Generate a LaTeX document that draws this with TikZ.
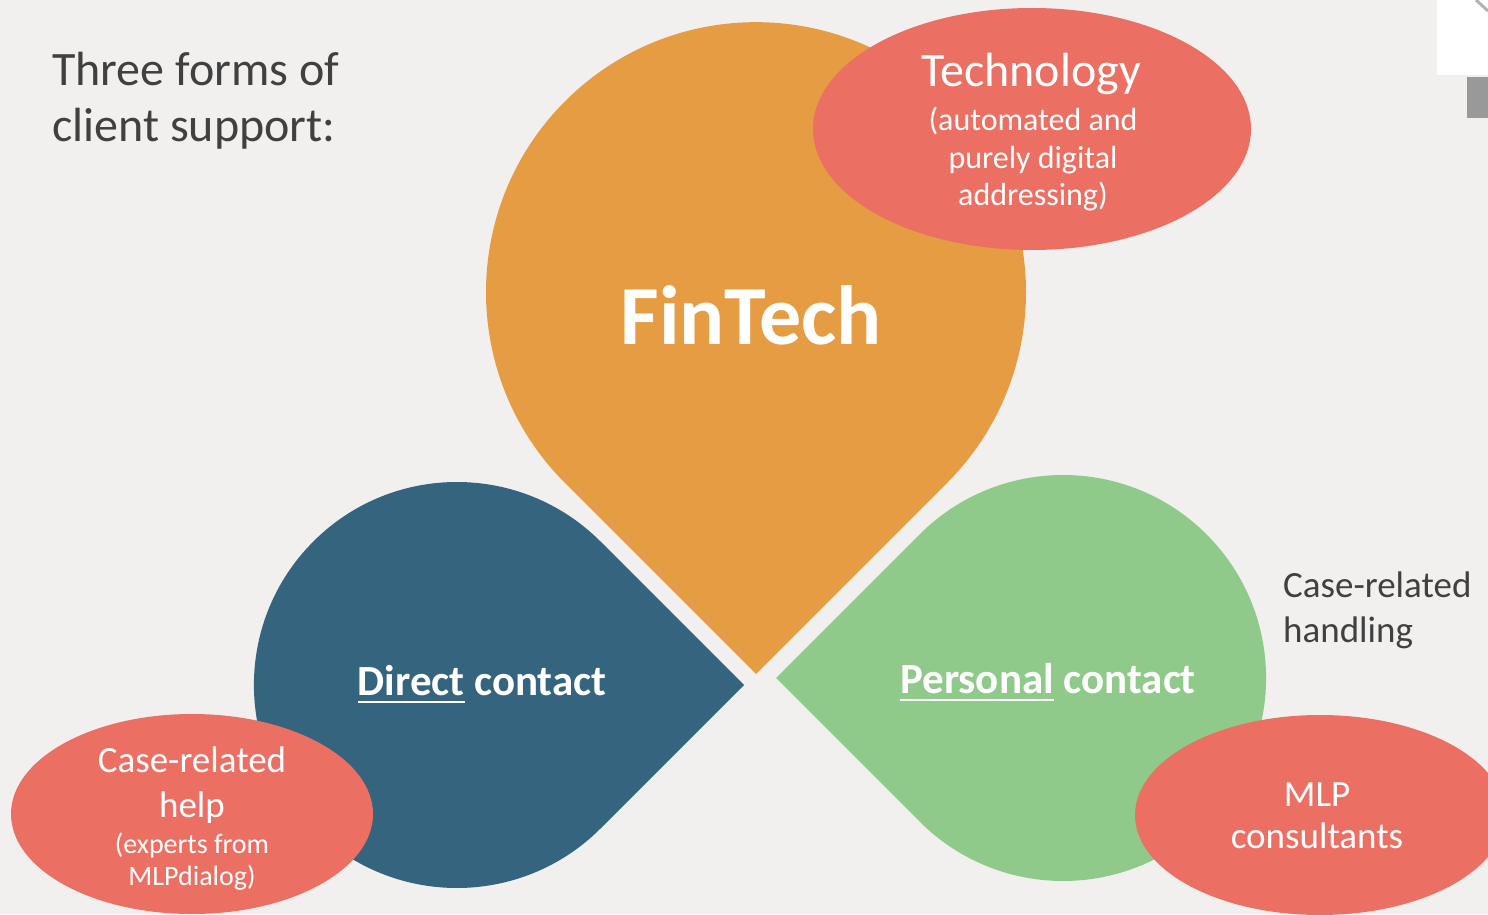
\documentclass[tikz,border=0pt]{standalone}
\usepackage{fontspec}
\setmainfont{Carlito}
\usepackage{tikz}
\usetikzlibrary{shapes}

\definecolor{bgcol}{HTML}{F1F0EE}
\definecolor{fintechcol}{HTML}{E69C42}
\definecolor{directcol}{HTML}{35647E}
\definecolor{personalcol}{HTML}{90CA8A}
\definecolor{bubblecol}{HTML}{EB6F62}
\definecolor{textcol}{HTML}{404040}

\newcommand{\ulword}[1]{\setbox0\hbox{#1}\rlap{\rule[-8pt]{\wd0}{2.5pt}}\box0\relax}
\newcommand{\fs}[2]{\fontsize{#1}{#2}\selectfont}

\begin{document}
\begin{tikzpicture}[x=1pt, y=1pt,
                bubble/.style = {ellipse, fill=bubblecol, inner sep=0pt},
                label/.style = {text=white, align=center, inner sep=0pt},
                note/.style = {text=textcol, align=left, inner sep=0pt}]
                \useasboundingbox (0,0) rectangle (1488,914);
                \fill[bgcol] (0,0) rectangle (1488,914);
                \fill[white] (1437,839) rectangle (1488,914);
                \fill[black!40] (1467,796) rectangle (1488,837);
                \draw[black!30, line width=3pt] (1476,914) -- (1488,903);

                \fill[fintechcol] (756,240) -- ++(45:270) arc[start angle=-45, end angle=225, radius=270] -- cycle;
                \fill[directcol] (744,229) -- ++(135:203) arc[start angle=45, end angle=315, radius=203] -- cycle;
                \fill[personalcol] (776,236) -- ++(45:203) arc[start angle=135, end angle=-135, radius=203] -- cycle;

                \node[bubble, minimum width=438, minimum height=242] at (1032,785) (tech) {};
                \node[bubble, minimum width=362, minimum height=200] at (192,100) (help) {};
                \node[bubble, minimum width=370, minimum height=200] at (1320,99) (consult) {};

                \node[note, anchor=base west, font=\fs{48}{56}] at (52,772) (title) {Three forms of\\client support:};
                \node[label, anchor=base, font=\fs{84}{100}\bfseries] at (751,569) (fintech) {FinTech};
                \node[label, anchor=base, font=\fs{48}{56}] at (1031,827) (techhead) {Technology};
                \node[label, anchor=base, font=\fs{32}{37.5}] at (1033,708) (techtext) {(automated and\\purely digital\\addressing)};
                \node[label, anchor=base, font=\fs{43}{50}\bfseries] at (482,219) (direct) {\ulword{Direct} contact};
                \node[label, anchor=base, font=\fs{43}{50}\bfseries] at (1048,221) (personal) {\ulword{Personal} contact};
                \node[note, anchor=base west, font=\fs{37}{45}] at (1283,272) (handling) {Case-related\\handling};
                \node[label, anchor=base, font=\fs{37}{45}] at (192,97) (helphead) {Case-related\\help};
                \node[label, anchor=base, font=\fs{28}{32}] at (192,29) (helptext) {(experts from\\MLPdialog)};
                \node[label, anchor=base, font=\fs{37}{42}] at (1317,66) (consulttext) {MLP\\consultants};
            \end{tikzpicture}
\end{document}
